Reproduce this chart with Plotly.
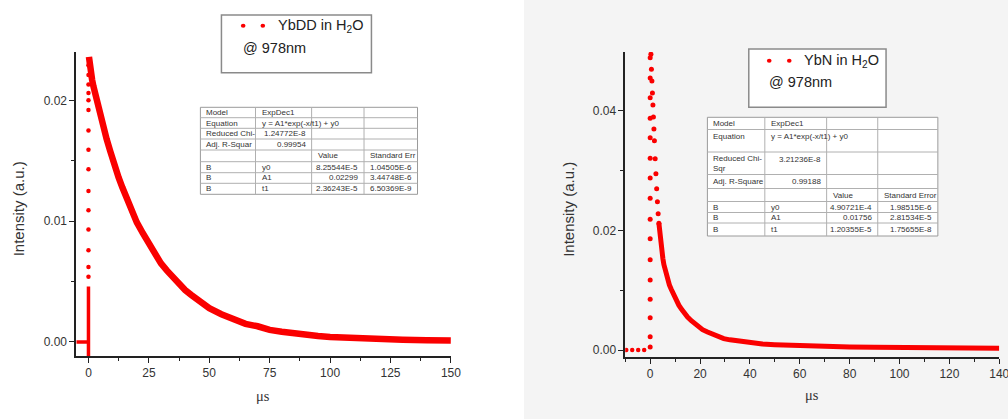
import plotly.graph_objects as go

REF_W, H = 1008, 419
W = 1020  # the capture is squeezed horizontally to 1008 px

# ---------------- data : YbDD in H2O (left panel) ----------------
ybdd_pre_x = [-5.0, -2.5, 0.0]
ybdd_pre_y = [0.0, 0.0, 0.0]
ybdd_base_x = [0.0, 0.0]
ybdd_base_y = [-0.00115, 0.0046]
ybdd_rise_x = [0.0] * 15
ybdd_rise_y = [0.0054, 0.0062, 0.0076, 0.0093, 0.0109, 0.0125, 0.0143, 0.0159, 0.0175,
               0.0192, 0.0200, 0.0206, 0.0213, 0.0221, 0.0229]
ybdd_decay_x = [0.2, 0.5, 1, 1.5, 2, 3, 4, 5, 6, 7.5, 9, 10, 11, 12.5, 14, 15, 17.5, 20,
                22.5, 25, 27.5, 30, 32.5, 35, 37.5, 40, 42.5, 45, 47.5, 50, 55, 60, 65,
                70, 75, 80, 85, 90, 95, 100, 110, 120, 130, 140, 150]
ybdd_decay_y = [0.0236, 0.0227, 0.0221, 0.0217, 0.0212, 0.0203, 0.0195, 0.0187, 0.0179,
                0.0168, 0.0158, 0.0151, 0.0145, 0.0136, 0.0128, 0.0123, 0.0110, 0.0099,
                0.0090, 0.0081, 0.0073, 0.0065, 0.0059, 0.0053, 0.0048, 0.0043, 0.0039,
                0.0035, 0.0032, 0.0028, 0.0023, 0.0019, 0.0015, 0.0013, 0.0010, 0.00085,
                0.0007, 0.00059, 0.0005, 0.00041, 0.00030, 0.00022, 0.00018, 0.00014,
                0.00012]

# ---------------- data : YbN in H2O (right panel) ----------------
ybn_pre_x = [-9.6, -7.2, -4.8, -2.4]
ybn_pre_y = [0.0, 0.0, 0.0, 0.0]
ybn_rise_x = [0.0] * 16
ybn_rise_y = [0.0005, 0.0022, 0.0054, 0.0085, 0.0117, 0.0151, 0.0186, 0.0219, 0.0254,
              0.0288, 0.0321, 0.0355, 0.0388, 0.0422, 0.0455, 0.0489]
ybn_early_x = [0.3, 0.5, 0.7, 0.9, 1.1, 1.3, 1.5, 1.7, 2.0, 2.3, 2.6, 2.9, 3.2, 3.5]
ybn_early_y = [0.0495, 0.0470, 0.0450, 0.0430, 0.0410, 0.0390, 0.0370, 0.0350, 0.0320,
               0.0295, 0.0270, 0.0248, 0.0228, 0.0212]
ybn_decay_x = [3.5, 3.8, 4.1, 4.4, 4.75, 5.1, 5.5, 6.0, 6.5, 7.1, 7.7, 8.4, 9.1, 9.8, 10.6,
               11.5, 12.6, 13.8, 15, 16.5, 17.8, 19.2, 21, 23, 25, 27.2, 29.5, 32, 35,
               37.8, 41, 45, 50, 55, 60, 65, 72, 80, 90, 100, 120, 140]
ybn_decay_y = [0.0212, 0.0198, 0.0186, 0.0175, 0.0164, 0.0153, 0.0143, 0.0134, 0.0125,
               0.0117, 0.0109, 0.0102, 0.0095, 0.0089, 0.0082, 0.0075, 0.0068, 0.0061,
               0.0055, 0.0049, 0.0044, 0.0039, 0.0034, 0.0030, 0.0026, 0.0022, 0.0019,
               0.0017, 0.0015, 0.0013, 0.0011, 0.0010, 0.0009, 0.0008, 0.0007, 0.0006,
               0.00055, 0.0005, 0.00045, 0.0004, 0.0003, 0.0003]

# ---------------- fit tables ----------------
left_table = [
    ["Model", "ExpDec1", "", ""],
    ["Equation", "y = A1*exp(-x/t1) + y0", "", ""],
    ["Reduced Chi-", "1.24772E-8", "", ""],
    ["Adj. R-Squar", "0.99954", "", ""],
    ["", "", "Value", "Standard Err"],
    ["B", "y0", "8.25544E-5", "1.04505E-6"],
    ["B", "A1", "0.02299", "3.44748E-6"],
    ["B", "t1", "2.36243E-5", "6.50369E-9"],
]
right_table = [
    ["Model", "ExpDec1", "", ""],
    ["Equation", "y = A1*exp(-x/t1) + y0", "", ""],
    ["Reduced Chi-<br>Sqr", "3.21236E-8", "", ""],
    ["Adj. R-Square", "0.99188", "", ""],
    ["", "", "Value", "Standard Error"],
    ["B", "y0", "4.90721E-4", "1.98515E-6"],
    ["B", "A1", "0.01756", "2.81534E-5"],
    ["B", "t1", "1.20355E-5", "1.75655E-8"],
]

RED = "#fa0000"
AX = "#222222"
TXT = "#333333"
SANS = "Liberation Sans, Arial, sans-serif"
SERIF = "Liberation Serif, Times New Roman, serif"


def X(p):
    return p / REF_W


def Y(p):
    return 1 - p / H


fig = go.Figure()

# left panel traces
fig.add_trace(go.Scatter(x=ybdd_pre_x, y=ybdd_pre_y, mode="lines",
                         line=dict(color=RED, width=3.5), xaxis="x", yaxis="y"))
fig.add_trace(go.Scatter(x=ybdd_base_x, y=ybdd_base_y, mode="lines",
                         line=dict(color=RED, width=3.5), xaxis="x", yaxis="y"))
fig.add_trace(go.Scatter(x=ybdd_rise_x, y=ybdd_rise_y, mode="markers",
                         marker=dict(color=RED, size=4.5), xaxis="x", yaxis="y"))
fig.add_trace(go.Scatter(x=ybdd_decay_x, y=ybdd_decay_y, mode="lines",
                         line=dict(color=RED, width=6.5), xaxis="x", yaxis="y"))

# right panel traces
fig.add_trace(go.Scatter(x=ybn_pre_x, y=ybn_pre_y, mode="markers",
                         marker=dict(color=RED, size=4.5), xaxis="x2", yaxis="y2"))
fig.add_trace(go.Scatter(x=ybn_rise_x, y=ybn_rise_y, mode="markers",
                         marker=dict(color=RED, size=5), xaxis="x2", yaxis="y2"))
fig.add_trace(go.Scatter(x=ybn_early_x, y=ybn_early_y, mode="markers",
                         marker=dict(color=RED, size=5), xaxis="x2", yaxis="y2"))
fig.add_trace(go.Scatter(x=ybn_decay_x, y=ybn_decay_y, mode="lines",
                         line=dict(color=RED, width=5), xaxis="x2", yaxis="y2"))

axis_common = dict(showline=True, linecolor=AX, linewidth=1.5, ticks="outside",
                   tickcolor=AX, tickwidth=1.3, ticklen=5, showgrid=False,
                   zeroline=False, tickfont=dict(family=SANS, size=12, color=TXT))

fig.update_layout(
    width=W, height=H, margin=dict(l=0, r=0, t=0, b=0),
    paper_bgcolor="white", plot_bgcolor="rgba(0,0,0,0)", showlegend=False,
    xaxis=dict(domain=[X(76), X(450)], range=[-5.1, 150], anchor="y",
               tickvals=[0, 25, 50, 75, 100, 125, 150],
               minor=dict(ticks="outside", ticklen=3, tickcolor=AX, dtick=12.5, tick0=0),
               **axis_common),
    yaxis=dict(domain=[Y(356), Y(52)], range=[-0.00116, 0.0240], anchor="x",
               tickvals=[0, 0.01, 0.02], ticktext=["0.00", "0.01", "0.02"],
               minor=dict(ticks="outside", ticklen=3, tickcolor=AX, dtick=0.005, tick0=0),
               **axis_common),
    xaxis2=dict(domain=[X(624), X(997.3)], range=[-10, 140], anchor="y2",
                tickvals=[0, 20, 40, 60, 80, 100, 120, 140],
                minor=dict(ticks="outside", ticklen=3, tickcolor=AX, dtick=10, tick0=0),
                **axis_common),
    yaxis2=dict(domain=[Y(357), Y(52)], range=[-0.00117, 0.04987], anchor="x2",
                tickvals=[0, 0.02, 0.04], ticktext=["0.00", "0.02", "0.04"],
                minor=dict(ticks="outside", ticklen=3, tickcolor=AX, dtick=0.01, tick0=0),
                **axis_common),
)

shapes = []
annots = []

# light grey background behind the right panel
shapes.append(dict(type="rect", xref="paper", yref="paper", x0=X(523), x1=1, y0=0, y1=1,
                   fillcolor="#f4f4f4", line=dict(width=0), layer="below"))


def text(px, py, s, size=8, anchor="left", family=SANS, angle=0):
    annots.append(dict(xref="paper", yref="paper", x=X(px), y=Y(py), text=s,
                       showarrow=False, xanchor=anchor, yanchor="middle", align=anchor,
                       textangle=angle, font=dict(family=family, size=size, color=TXT)))


def legend(x0, x1, y0, y1, d1, d2, dy, label, ty):
    shapes.append(dict(type="rect", xref="paper", yref="paper", x0=X(x0), x1=X(x1),
                       y0=Y(y1), y1=Y(y0), fillcolor="white",
                       line=dict(color="#8a8a8a", width=1.5)))
    for cx in (d1, d2):
        shapes.append(dict(type="circle", xref="paper", yref="paper",
                           x0=X(cx - 2.3), x1=X(cx + 2.3), y0=Y(dy + 2.0), y1=Y(dy - 2.0),
                           fillcolor=RED, line=dict(width=0)))
    annots.append(dict(xref="paper", yref="paper", x=X(d2 + 13), y=Y(dy), text=label,
                       showarrow=False, xanchor="left", yanchor="middle",
                       font=dict(family=SANS, size=14.5, color="#222")))
    annots.append(dict(xref="paper", yref="paper", x=X(d1 - 2.5), y=Y(ty), text="@ 978nm",
                       showarrow=False, xanchor="left", yanchor="middle",
                       font=dict(family=SANS, size=14.5, color="#222")))


legend(221, 370.7, 15, 72.7, 242.7, 262.3, 25.7, "YbDD in H<sub>2</sub>O", 48.3)
legend(747.3, 884.3, 49, 107.3, 767.7, 787.7, 60.7, "YbN in H<sub>2</sub>O", 82.3)


def table(cols, rows, cells, text_y, aligns, pad=4, value_y=None):
    shapes.append(dict(type="rect", xref="paper", yref="paper", x0=X(cols[0]), x1=X(cols[-1]),
                       y0=Y(rows[-1]), y1=Y(rows[0]), fillcolor="white",
                       line=dict(color="#9a9a9a", width=1)))
    for r in rows[1:-1]:
        shapes.append(dict(type="line", xref="paper", yref="paper", x0=X(cols[0]), x1=X(cols[-1]),
                           y0=Y(r), y1=Y(r), line=dict(color="#b0b0b0", width=1)))
    for c in cols[1:-1]:
        shapes.append(dict(type="line", xref="paper", yref="paper", x0=X(c), x1=X(c),
                           y0=Y(rows[-1]), y1=Y(rows[0]), line=dict(color="#b0b0b0", width=1)))
    for i, row in enumerate(cells):
        for j, s in enumerate(row):
            if not s:
                continue
            a = aligns[i][j]
            if a == "right":
                px = cols[j + 1] - pad
            else:
                px = cols[j] + pad
            ty = text_y[i]
            if value_y and j > 0 and i in value_y:
                ty = value_y[i]
            text(px, ty, s, size=8, anchor=a)


L_al = [["left", "left", "left", "left"],
        ["left", "left", "left", "left"],
        ["left", "right", "left", "left"],
        ["left", "right", "left", "left"],
        ["left", "left", "left", "left"],
        ["left", "left", "right", "right"],
        ["left", "left", "right", "right"],
        ["left", "left", "right", "right"]]

lrows = [107.3, 117.7, 128.3, 139, 150, 161.7, 172.7, 183.3, 194.3]
ltext = [(lrows[i] + lrows[i + 1]) / 2 for i in range(8)]
table([200, 255, 311, 363.3, 416.7], lrows, left_table, ltext, L_al)

rrows = [117.3, 129.5, 152, 174.5, 188.5, 201.5, 212.5, 223, 236]
rtext = [124, 136, 163, 181.7, 195, 207.3, 217.7, 229]
table([706, 763.3, 825, 876, 936], rrows, right_table, rtext, L_al, value_y={2: 159.3})

# axis titles
text(18.3, 209, "Intensity (a.u.)", size=15, anchor="center", angle=-90)
text(566.7, 209, "Intensity (a.u.)", size=15, anchor="center", angle=-90)
text(262.7, 396, "μs", size=14.5, anchor="center", family=SERIF)
text(810.7, 395, "μs", size=14.5, anchor="center", family=SERIF)

fig.update_layout(shapes=shapes, annotations=annots)
fig.write_html("out.html", config={"displayModeBar": False},
               post_script="document.body.style.margin='0';document.body.style.overflow='hidden';")
